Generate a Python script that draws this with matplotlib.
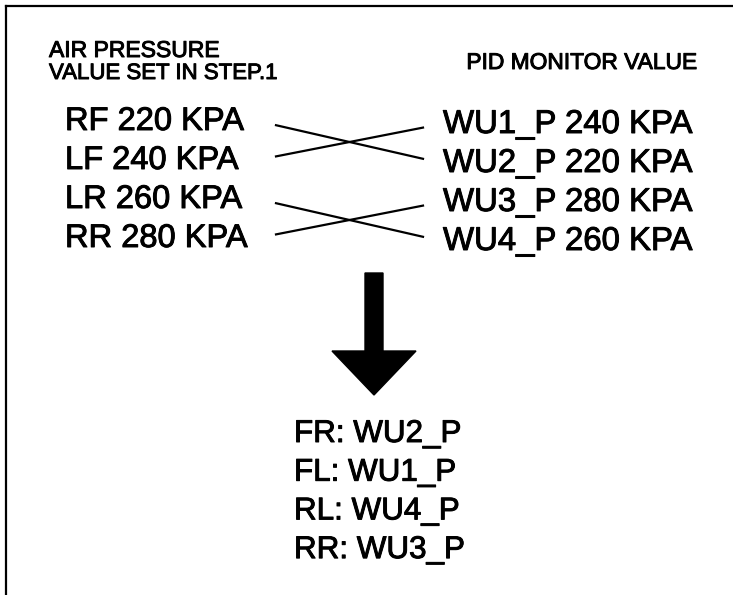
import matplotlib.pyplot as plt
import matplotlib.patheffects as pe
from matplotlib.patches import Polygon

plt.rcParams['font.family'] = ['Liberation Sans', 'DejaVu Sans']

# valores ajustados no passo 1 (esquerda) e lidos no monitor PID (direita)
left_pos = ["RF", "LF", "LR", "RR"]
left_kpa = [220, 240, 260, 280]
right_ids = ["WU1_P", "WU2_P", "WU3_P", "WU4_P"]
right_kpa = [240, 220, 280, 260]
result_pos = ["FR", "FL", "RL", "RR"]
result_ids = ["WU2_P", "WU1_P", "WU4_P", "WU3_P"]

W, H = 733, 595
fig = plt.figure(figsize=(W / 100, H / 100), dpi=100)
ax = fig.add_axes([0, 0, 1, 1])
ax.set_xlim(0, W)
ax.set_ylim(H, 0)
ax.axis('off')

# traço um pouco mais grosso, como no impresso escaneado
grosso = [pe.withStroke(linewidth=0.7, foreground='black')]

# moldura (só topo e lado esquerdo)
ax.plot([6, W], [6, 6], color='black', lw=1.6)
ax.plot([6, 6], [6, H], color='black', lw=1.6)

# cabeçalhos
ax.text(49, 57, "AIR PRESSURE", fontsize=16.5, va='baseline', path_effects=grosso)
ax.text(49, 79, "VALUE SET IN STEP.1", fontsize=16, va='baseline', path_effects=grosso)
ax.text(697, 69, "PID MONITOR VALUE", fontsize=16.4, ha='right', va='baseline',
        path_effects=grosso)

# linhas de valores
y0, dy = 130, 39
for i, (p, v) in enumerate(zip(left_pos, left_kpa)):
    ax.text(65, y0 + i * dy, f"{p} {v} KPA", fontsize=23.5, va='baseline',
            path_effects=grosso)
for i, (w, v) in enumerate(zip(right_ids, right_kpa)):
    ax.text(443, y0 + 3 + i * dy, f"{w} {v} KPA", fontsize=23.7, va='baseline',
            path_effects=grosso)

# liga cada pressão ajustada ao valor lido igual
for i, v in enumerate(left_kpa):
    j = right_kpa.index(v)
    ya = y0 + i * dy - 9
    yb = y0 + 3 + j * dy - 9
    # cruzamento um pouco mais fechado que as linhas de texto
    mid = (ya + yb) / 2
    ya = mid + (ya - mid) * 0.8
    yb = mid + (yb - mid) * 0.8
    ax.plot([276, 423], [ya, yb], color='black', lw=1.6)

# seta para baixo
cx, top, neck, tip = 374, 273, 351, 395
sw, hw = 9, 42
arrow = Polygon([(cx - sw, top), (cx + sw, top), (cx + sw, neck), (cx + hw, neck),
                 (cx, tip), (cx - hw, neck), (cx - sw, neck)],
                closed=True, color='black')
ax.add_patch(arrow)

# resultado
for i, (p, w) in enumerate(zip(result_pos, result_ids)):
    ax.text(294, 442 + i * 38.7, f"{p}: {w}", fontsize=22.6, va='baseline',
            path_effects=grosso)

fig.savefig("out.png", dpi=100)
